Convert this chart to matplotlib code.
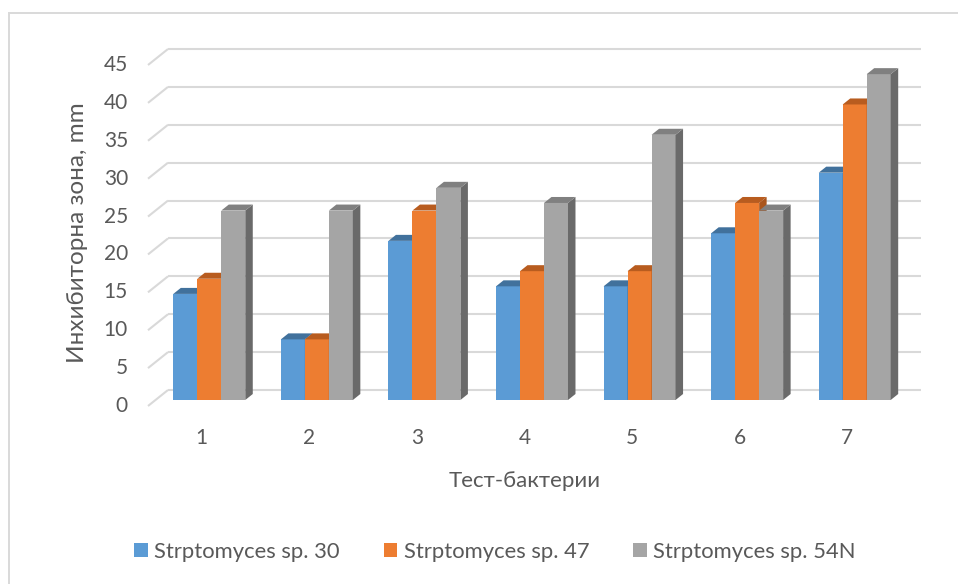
import matplotlib
matplotlib.use("Agg")
import matplotlib.pyplot as plt
from matplotlib.patches import Polygon, Rectangle, Patch
import numpy as np

# ---- data -------------------------------------------------------------
categories = ["1", "2", "3", "4", "5", "6", "7"]
series_names = ["Strptomyces sp. 30", "Strptomyces sp. 47", "Strptomyces sp. 54N"]
sp30 = [14, 8, 21, 15, 15, 22, 30]
sp47 = [16, 8, 25, 17, 17, 26, 39]
sp54n = [25, 25, 28, 26, 35, 25, 43]
y_ticks = [0, 5, 10, 15, 20, 25, 30, 35, 40, 45]
y_label = "Инхибиторна зона, mm"
x_label = "Тест-бактерии"

# ---- style ------------------------------------------------------------
FONT = ["Lato", "DejaVu Sans"]
TEXT = "#595959"
GRID = "#D9D9D9"
front_cols = ["#5B9BD5", "#ED7D31", "#A5A5A5"]
top_cols = ["#41719C", "#B85C1F", "#808080"]
side_cols = ["#3D6A94", "#A9561E", "#6A6A6A"]

W, H, DPI = 958, 584, 100
fig = plt.figure(figsize=(W / DPI, H / DPI), dpi=DPI)
fig.patch.set_facecolor("white")

# chart frame
fig.patches.append(Rectangle((9 / W, -0.2), 1.5, 1 - 13 / H + 0.2,
                             transform=fig.transFigure, fill=False,
                             edgecolor=GRID, linewidth=1.4, zorder=0))

# plot plane = front face of the bars
ax = fig.add_axes([155.5 / W, 184 / H, 753 / W, 341 / H])
ax.set_xlim(-0.5, len(categories) - 0.5)
ax.set_ylim(0, 45)
ax.axis("off")

# pixel -> data unit conversion for the perspective offsets
sx = (ax.transData.transform((1, 0)) - ax.transData.transform((0, 0)))[0]
sy = (ax.transData.transform((0, 1)) - ax.transData.transform((0, 0)))[1]
def du(px_x, px_y):
    return px_x / sx, px_y / sy

back_dx, back_dy = du(12.5, 10)     # back wall
front_dx, front_dy = du(-7.5, -6)   # front floor edge
bar_dx, bar_dy = du(7.5, 6)         # bar depth

x0, x1 = ax.get_xlim()

# back wall gridlines + left wall diagonals
for v in y_ticks:
    ax.plot([x0 + back_dx, x1 + back_dx], [v + back_dy, v + back_dy],
            color=GRID, lw=1.5, zorder=1, clip_on=False, solid_capstyle="butt")
    ax.plot([x0 + front_dx, x0 + back_dx], [v + front_dy, v + back_dy],
            color=GRID, lw=1.5, zorder=1, clip_on=False, solid_capstyle="butt")
    ax.text(x0 + front_dx - 20 / sx, v + front_dy, str(v), ha="right", va="center",
            fontsize=15, color=TEXT, family=FONT, clip_on=False)

# bars
x = np.arange(len(categories))
width = 0.223
series = [sp30, sp47, sp54n]
for j, vals in enumerate(series):
    off = (j - 1) * width
    ax.bar(x + off, vals, width, color=front_cols[j], linewidth=0,
           zorder=3 + 2 * j, clip_on=False)
    for xi, v in zip(x, vals):
        l, r = xi + off - width / 2, xi + off + width / 2
        side = Polygon([(r, 0), (r, v), (r + bar_dx, v + bar_dy), (r + bar_dx, bar_dy)],
                       closed=True, facecolor=side_cols[j], edgecolor="none",
                       zorder=4 + 2 * j, clip_on=False)
        top = Polygon([(l, v), (r, v), (r + bar_dx, v + bar_dy), (l + bar_dx, v + bar_dy)],
                      closed=True, facecolor=top_cols[j], edgecolor="none",
                      zorder=4 + 2 * j, clip_on=False)
        ax.add_patch(side)
        ax.add_patch(top)

# category labels on the front edge
for xi, c in zip(x, categories):
    ax.text(xi + front_dx, front_dy - 32 / sy, c, ha="center", va="center",
            fontsize=15, color=TEXT, family=FONT, clip_on=False)

# axis titles
fig.text(78 / W, 1 - 233 / H, y_label, rotation=90, ha="center", va="center",
         fontsize=17.5, color=TEXT, family=FONT)
fig.text(525 / W, 1 - 481 / H, x_label, ha="center", va="center",
         fontsize=16, color=TEXT, family=FONT)

# legend
handles = [Patch(facecolor=c, edgecolor="none") for c in front_cols]
leg = fig.legend(handles, series_names, loc="center", ncol=3,
                 bbox_to_anchor=(495 / W, 1 - 552 / H), frameon=False,
                 prop={"family": FONT, "size": 15.8}, handlelength=0.62,
                 handleheight=0.62, handletextpad=0.3, columnspacing=2.0)
for t in leg.get_texts():
    t.set_color(TEXT)

fig.savefig("out.png", dpi=DPI, facecolor="white")
